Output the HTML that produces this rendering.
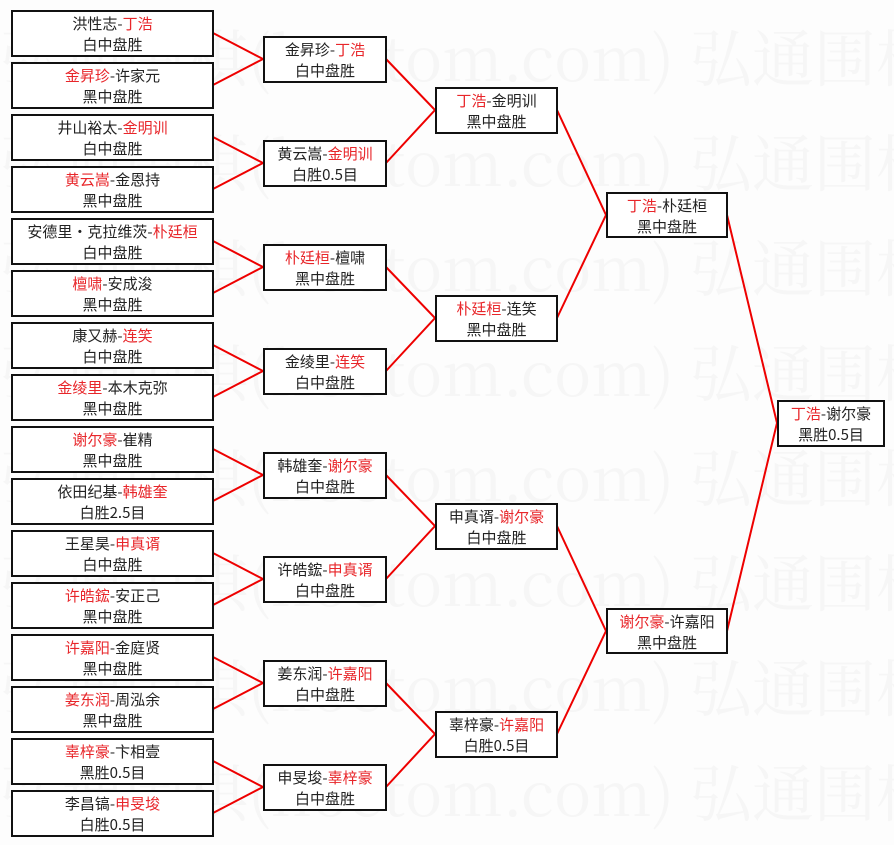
<!DOCTYPE html>
<html><head><meta charset="utf-8"><style>
body{margin:0;width:894px;height:845px;background:#fdfdfd;position:relative;overflow:hidden;font-family:"Noto Sans CJK SC","Liberation Sans",sans-serif;}
.b{position:absolute;border:2px solid #111;background:#fff;box-sizing:border-box;text-align:center;font-size:15px;line-height:21px;padding-top:1px;color:#222;white-space:nowrap}
.r{color:#e8262a}
.c1{left:11px;width:203px;height:47px}
.c2{left:263px;width:124px;height:47px}
.c3{left:435px;width:123px;height:47px}
.c4{left:606px;width:122px;height:46px}
.c5{left:777px;width:108px;height:47px}
.wm{position:absolute;left:0;font-size:62px;color:#f6f6f6;white-space:nowrap;font-family:"Noto Serif CJK SC","Liberation Serif",serif;}
svg{position:absolute;left:0;top:0}
</style></head><body>
<div class="wm" style="top:10px">弘通围棋(hoetom.com) 弘通围棋</div>
<div class="wm" style="top:115px">弘通围棋(hoetom.com) 弘通围棋</div>
<div class="wm" style="top:220px">弘通围棋(hoetom.com) 弘通围棋</div>
<div class="wm" style="top:325px">弘通围棋(hoetom.com) 弘通围棋</div>
<div class="wm" style="top:430px">弘通围棋(hoetom.com) 弘通围棋</div>
<div class="wm" style="top:535px">弘通围棋(hoetom.com) 弘通围棋</div>
<div class="wm" style="top:640px">弘通围棋(hoetom.com) 弘通围棋</div>
<div class="wm" style="top:745px">弘通围棋(hoetom.com) 弘通围棋</div>
<svg width="894" height="845"><g stroke="#e00" stroke-width="2" fill="none">
<path d="M213 33L263 59L213 85M213 137L263 163L213 189M213 241L263 267L213 293M213 345L263 371L213 397M213 449L263 475L213 501M213 553L263 579L213 605M213 657L263 683L213 709M213 761L263 787L213 813"/>
<path d="M386 59L435 110L386 163M386 267L435 318L386 371M386 475L435 526L386 579M386 683L435 734L386 787"/>
<path d="M557 110L606 215L557 318M557 526L606 631L557 734"/>
<path d="M727 215L777 423L727 631"/>
</g></svg>
<div class="b c1" style="top:10px">洪性志-<span class="r">丁浩</span><br>白中盘胜</div>
<div class="b c1" style="top:62px"><span class="r">金昇珍</span>-许家元<br>黑中盘胜</div>
<div class="b c1" style="top:114px">井山裕太-<span class="r">金明训</span><br>白中盘胜</div>
<div class="b c1" style="top:166px"><span class="r">黄云嵩</span>-金恩持<br>黑中盘胜</div>
<div class="b c1" style="top:218px">安德里·克拉维茨-<span class="r">朴廷桓</span><br>白中盘胜</div>
<div class="b c1" style="top:270px"><span class="r">檀啸</span>-安成浚<br>黑中盘胜</div>
<div class="b c1" style="top:322px">康又赫-<span class="r">连笑</span><br>白中盘胜</div>
<div class="b c1" style="top:374px"><span class="r">金绫里</span>-本木克弥<br>黑中盘胜</div>
<div class="b c1" style="top:426px"><span class="r">谢尔豪</span>-崔精<br>黑中盘胜</div>
<div class="b c1" style="top:478px">依田纪基-<span class="r">韩雄奎</span><br>白胜2.5目</div>
<div class="b c1" style="top:530px">王星昊-<span class="r">申真谞</span><br>白中盘胜</div>
<div class="b c1" style="top:582px"><span class="r">许皓鋐</span>-安正己<br>黑中盘胜</div>
<div class="b c1" style="top:634px"><span class="r">许嘉阳</span>-金庭贤<br>黑中盘胜</div>
<div class="b c1" style="top:686px"><span class="r">姜东润</span>-周泓余<br>黑中盘胜</div>
<div class="b c1" style="top:738px"><span class="r">辜梓豪</span>-卞相壹<br>黑胜0.5目</div>
<div class="b c1" style="top:790px">李昌镐-<span class="r">申旻埈</span><br>白胜0.5目</div>

<div class="b c2" style="top:36px">金昇珍-<span class="r">丁浩</span><br>白中盘胜</div>
<div class="b c2" style="top:140px">黄云嵩-<span class="r">金明训</span><br>白胜0.5目</div>
<div class="b c2" style="top:244px"><span class="r">朴廷桓</span>-檀啸<br>黑中盘胜</div>
<div class="b c2" style="top:348px">金绫里-<span class="r">连笑</span><br>白中盘胜</div>
<div class="b c2" style="top:452px">韩雄奎-<span class="r">谢尔豪</span><br>白中盘胜</div>
<div class="b c2" style="top:556px">许皓鋐-<span class="r">申真谞</span><br>白中盘胜</div>
<div class="b c2" style="top:660px">姜东润-<span class="r">许嘉阳</span><br>白中盘胜</div>
<div class="b c2" style="top:764px">申旻埈-<span class="r">辜梓豪</span><br>白中盘胜</div>

<div class="b c3" style="top:87px"><span class="r">丁浩</span>-金明训<br>黑中盘胜</div>
<div class="b c3" style="top:295px"><span class="r">朴廷桓</span>-连笑<br>黑中盘胜</div>
<div class="b c3" style="top:503px">申真谞-<span class="r">谢尔豪</span><br>白中盘胜</div>
<div class="b c3" style="top:711px">辜梓豪-<span class="r">许嘉阳</span><br>白胜0.5目</div>

<div class="b c4" style="top:192px"><span class="r">丁浩</span>-朴廷桓<br>黑中盘胜</div>
<div class="b c4" style="top:608px"><span class="r">谢尔豪</span>-许嘉阳<br>黑中盘胜</div>

<div class="b c5" style="top:400px"><span class="r">丁浩</span>-谢尔豪<br>黑胜0.5目</div>
</body></html>
